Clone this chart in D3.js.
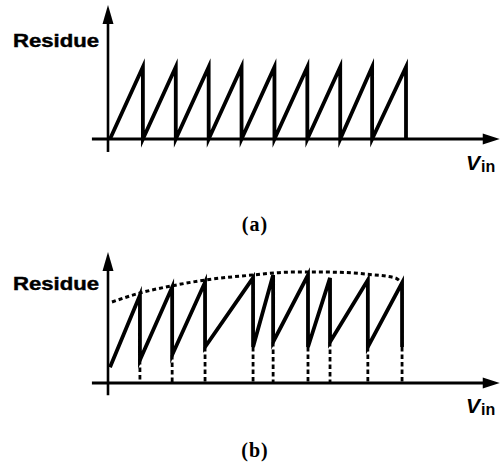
<!DOCTYPE html>
<html>
<head>
<meta charset="utf-8">
<script src="https://cdn.jsdelivr.net/npm/d3@7"></script>
<style>
  html, body { margin: 0; padding: 0; background: #fff; }
  svg { display: block; }
</style>
</head>
<body>
<svg id="chart" width="501" height="466"></svg>
<script>
// ---------- data ----------
// Panel (a): ideal residue, 9 identical teeth (x in LSB-step units, y normalised)
const aDropX   = [1, 2, 3, 4, 5, 6, 7, 7.97, 9];
const aPeakVal = [1, 1, 1, 1, 1, 1, 1, 1, 1];
const aStartVal = [0, 0, 0, 0, 0, 0, 0, 0, 0];

// Panel (b): nonideal residue (unequal steps, varying gain)
const bDropX    = [0.91, 1.89, 2.89, 4.35, 4.96, 6.02, 6.69, 7.84, 8.88];
const bStartVal = [0.22, 0.32, 0.39, 0.50, 0.50, 0.57, 0.50, 0.57, 0.50];
const bPeakVal  = [1.22, 1.33, 1.40, 1.46, 1.50, 1.50, 1.46, 1.43, 1.39];
const bEndVal   = 0.50;
// dotted envelope through the peaks
const envX   = [0.06, 0.91, 1.89, 2.89, 4.35, 5.47, 6.69, 7.84, 8.67, 8.88];
const envVal = [1.125, 1.25, 1.35, 1.43, 1.50, 1.54, 1.54, 1.51, 1.46, 1.39];

const labels = { y: "Residue", x: "V", xSub: "in", a: "(a)", b: "(b)" };

// ---------- drawing ----------
const svg = d3.select("#chart");
svg.append("rect").attr("width", 501).attr("height", 466).attr("fill", "#fff");

const x = d3.scaleLinear().domain([0, 9]).range([110, 406]);
const ya = d3.scaleLinear().domain([0, 1]).range([139, 67]);
const yb = d3.scaleLinear().domain([0, 1]).range([383, 311]);

const xAxisMin = -0.55, xAxisMax = 11.85;
const line = d3.line();

function drawAxes(y, yTop, yBot) {
  const g = svg.append("g");
  const x0 = x(xAxisMin), x1 = x(xAxisMax), yz = y(0);
  const ax = x(0) - 2;
  g.append("line").attr("x1", x0).attr("x2", x1 - 14).attr("y1", yz).attr("y2", yz)
    .attr("stroke", "#000").attr("stroke-width", 2.8);
  g.append("path").attr("d", line([[x1, yz], [x1 - 17, yz - 5.5], [x1 - 17, yz + 5.5]]) + "Z")
    .attr("fill", "#000");
  const yt = y(yTop), yb0 = y(yBot);
  g.append("line").attr("x1", ax).attr("x2", ax).attr("y1", yb0).attr("y2", yt + 14)
    .attr("stroke", "#000").attr("stroke-width", 2.6);
  g.append("path").attr("d", line([[ax, yt], [ax - 5.5, yt + 19], [ax + 5.5, yt + 19]]) + "Z")
    .attr("fill", "#000");
}

function drawLabels(yName, yBase, vBase, capBase) {
  svg.append("text").attr("x", 13).attr("y", yBase)
    .attr("font-family", "'Liberation Sans', Arial, sans-serif")
    .attr("font-weight", "bold").attr("font-size", 17.5)
    .attr("stroke", "#000").attr("stroke-width", 0.4)
    .attr("textLength", 86).attr("lengthAdjust", "spacingAndGlyphs")
    .text(labels.y);
  const t = svg.append("text").attr("x", 466).attr("y", vBase)
    .attr("font-family", "'Liberation Sans', Arial, sans-serif")
    .attr("font-weight", "bold");
  t.append("tspan").attr("font-style", "italic").attr("font-size", 21).text(labels.x);
  t.append("tspan").attr("font-size", 16).attr("dx", 1).attr("dy", 2).text(labels.xSub);
  svg.append("text").attr("x", 255).attr("y", capBase).attr("text-anchor", "middle")
    .attr("font-family", "'Liberation Serif', 'Times New Roman', serif")
    .attr("font-weight", "bold")
    .attr("font-size", 20).attr("letter-spacing", 1)
    .text(yName);
}

// ----- Panel (a) -----
drawAxes(ya, 1.86, -0.18);
{
  const pts = [];
  let prev = 0;
  aDropX.forEach((dx, i) => {
    pts.push([x(prev), ya(aStartVal[i])]);
    pts.push([x(dx), ya(aPeakVal[i])]);
    prev = dx;
  });
  pts.push([x(aDropX[aDropX.length - 1]), ya(0)]);
  svg.append("path").attr("d", line(pts)).attr("fill", "none")
    .attr("stroke", "#000").attr("stroke-width", 3.8).attr("stroke-linejoin", "miter")
    .attr("stroke-miterlimit", 6);
}
drawLabels(labels.a, 46.5, 170, 231);

// ----- Panel (b) -----
drawAxes(yb, 1.82, -0.17);
{
  bDropX.forEach((dx, i) => {
    const bottom = i < bDropX.length - 1 ? bStartVal[i + 1] : bEndVal;
    svg.append("line").attr("x1", x(dx)).attr("x2", x(dx))
      .attr("y1", yb(bottom)).attr("y2", yb(0))
      .attr("stroke", "#000").attr("stroke-width", 2.8).attr("stroke-dasharray", "4.5,3");
  });
  svg.append("path")
    .attr("d", d3.line().curve(d3.curveMonotoneX)(envX.map((v, i) => [x(v), yb(envVal[i])])))
    .attr("fill", "none").attr("stroke", "#000").attr("stroke-width", 3)
    .attr("stroke-dasharray", "4,3");
  const pts = [];
  let prev = 0;
  bDropX.forEach((dx, i) => {
    pts.push([x(prev), yb(bStartVal[i])]);
    pts.push([x(dx), yb(bPeakVal[i])]);
    prev = dx;
  });
  pts.push([x(bDropX[bDropX.length - 1]), yb(bEndVal)]);
  svg.append("path").attr("d", line(pts)).attr("fill", "none")
    .attr("stroke", "#000").attr("stroke-width", 3.8).attr("stroke-linejoin", "miter")
    .attr("stroke-miterlimit", 6);
}
drawLabels(labels.b, 290, 413, 457);
</script>
</body>
</html>
